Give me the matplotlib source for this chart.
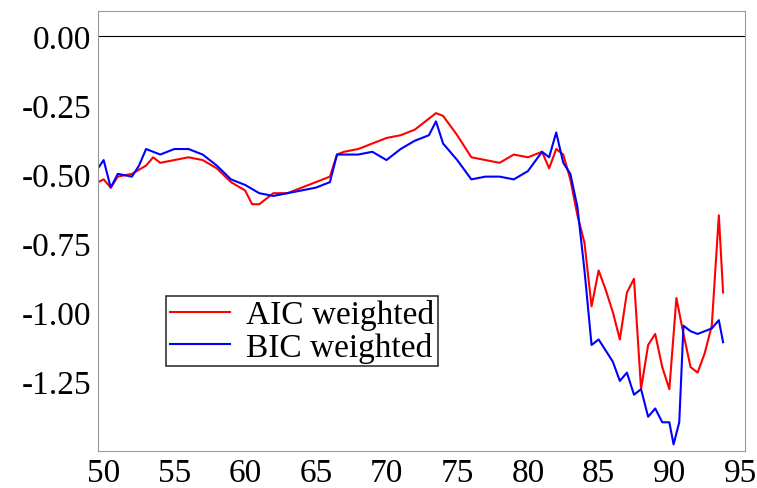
import matplotlib
matplotlib.use("Agg")
import matplotlib.pyplot as plt

aic_x = [49.6,50,50.5,51,52,53,53.5,54,55,56,57,58,59,60,60.5,61,62,63,64,65,66,66.5,67,68,69,70,71,72,73,73.5,74,75,76,77,78,79,80,81,81.5,82,82.5,83,83.5,84,84.5,85,85.5,86,86.5,87,87.5,88,88.5,89,89.5,90,90.5,91,91.5,92,92.5,93,93.5,93.8]
aic_y = [-0.53,-0.52,-0.55,-0.51,-0.50,-0.47,-0.44,-0.46,-0.45,-0.44,-0.45,-0.48,-0.53,-0.56,-0.61,-0.61,-0.57,-0.57,-0.55,-0.53,-0.51,-0.43,-0.42,-0.41,-0.39,-0.37,-0.36,-0.34,-0.30,-0.28,-0.29,-0.36,-0.44,-0.45,-0.46,-0.43,-0.44,-0.42,-0.48,-0.41,-0.43,-0.52,-0.65,-0.75,-0.98,-0.85,-0.92,-1.00,-1.10,-0.93,-0.88,-1.28,-1.12,-1.08,-1.20,-1.28,-0.95,-1.08,-1.20,-1.22,-1.15,-1.05,-0.65,-0.93]
bic_x = [49.6,50,50.5,51,52,52.5,53,54,55,56,57,58,59,60,61,62,63,64,65,66,66.5,67,68,69,70,71,72,73,73.5,74,75,76,77,78,79,80,81,81.5,82,82.5,83,83.5,84,84.5,85,86,86.5,87,87.5,88,88.5,89,89.5,90,90.3,90.7,91,91.5,92,93,93.5,93.8]
bic_y = [-0.48,-0.45,-0.55,-0.50,-0.51,-0.47,-0.41,-0.43,-0.41,-0.41,-0.43,-0.47,-0.52,-0.54,-0.57,-0.58,-0.57,-0.56,-0.55,-0.53,-0.43,-0.43,-0.43,-0.42,-0.45,-0.41,-0.38,-0.36,-0.31,-0.39,-0.45,-0.52,-0.51,-0.51,-0.52,-0.49,-0.42,-0.44,-0.35,-0.46,-0.50,-0.62,-0.85,-1.12,-1.10,-1.18,-1.25,-1.22,-1.30,-1.28,-1.38,-1.35,-1.40,-1.40,-1.48,-1.40,-1.05,-1.07,-1.08,-1.06,-1.03,-1.11]
xticks = [50,55,60,65,70,75,80,85,90,95]
yticks = [0.00,-0.25,-0.50,-0.75,-1.00,-1.25]

plt.rcParams['font.family'] = ['Liberation Serif']
fig = plt.figure(figsize=(7.57,4.89), dpi=100)
ax = fig.add_axes([98/757, 1-452/489, (745-98)/757, 440/489])
ax.plot(aic_x, aic_y, color='#ff0000', lw=1.5, label='AIC weighted')
ax.plot(bic_x, bic_y, color='#0000ff', lw=1.5, label='BIC weighted')
ax.axhline(0, color='black', lw=0.8)
ax.set_xlim(49.6, 95.35)
ax.set_ylim(-1.504, 0.09)
ax.set_xticks(xticks)
ax.set_yticks(yticks)
ax.set_yticklabels([f"{v:.2f}" for v in yticks])
ax.tick_params(labelsize=24, length=0, pad=5)
for s in ax.spines.values():
    s.set_color('#999999')
leg = ax.legend(loc='upper left', bbox_to_anchor=(0.08, 0.39), fontsize=24, frameon=True,
                fancybox=False, edgecolor='black', handlelength=1.8, borderpad=0.1, labelspacing=0.05,
                handletextpad=0.5)
leg.get_frame().set_linewidth(1.2)
fig.savefig('out.png', dpi=100)
